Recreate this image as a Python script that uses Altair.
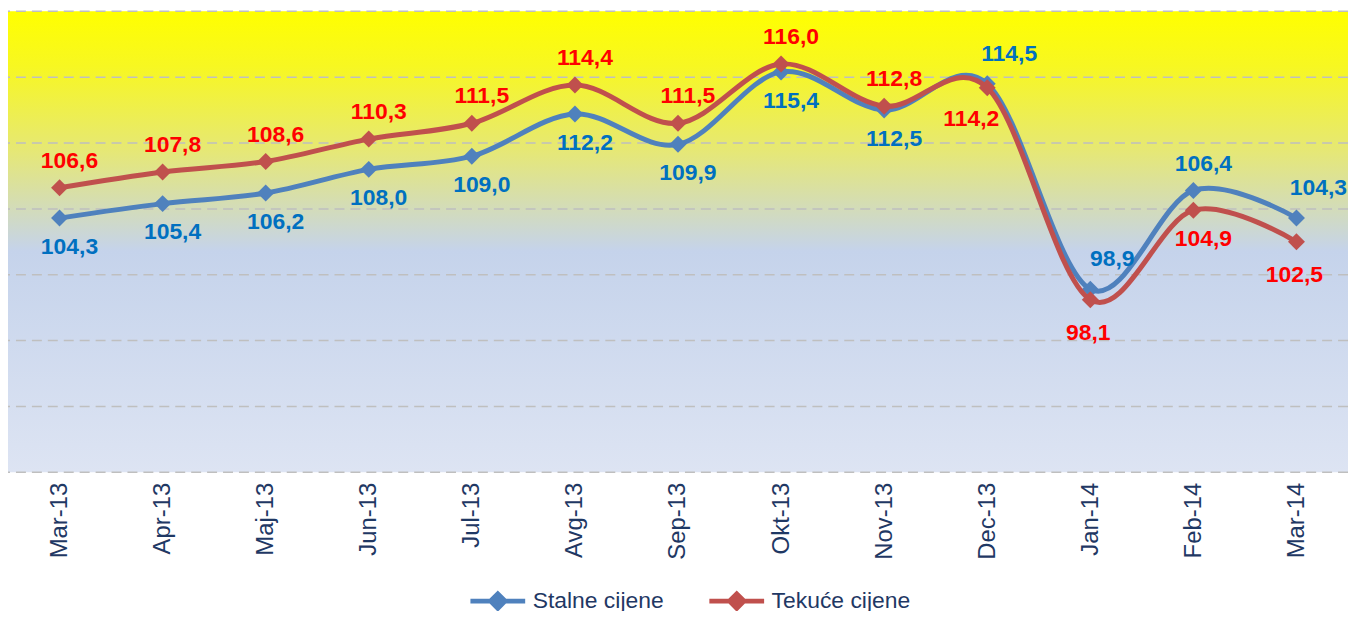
import altair as alt
import pandas as pd

months = ["Mar-13", "Apr-13", "Maj-13", "Jun-13", "Jul-13", "Avg-13", "Sep-13",
          "Okt-13", "Nov-13", "Dec-13", "Jan-14", "Feb-14", "Mar-14"]
stalne = [104.3, 105.4, 106.2, 108.0, 109.0, 112.2, 109.9, 115.4, 112.5, 114.5, 98.9, 106.4, 104.3]
tekuce = [106.6, 107.8, 108.6, 110.3, 111.5, 114.4, 111.5, 116.0, 112.8, 114.2, 98.1, 104.9, 102.5]
series_names = ["Stalne cijene", "Tekuće cijene"]
line_colors = ["#4F81BD", "#C0504D"]
label_colors = ["#0070C0", "#FF0000"]
grid_values = [85, 90, 95, 100, 105, 110, 115, 120]
# label side relative to its marker
stalne_side = ["below"] * 9 + ["above-right", "above-right", "above", "above-right"]
tekuce_side = ["above"] * 9 + ["below-left", "below-center", "below", "below-center"]

rows = []
for i, m in enumerate(months):
    rows.append({"month": m, "series": series_names[0], "value": stalne[i], "side": stalne_side[i], "order": i})
    rows.append({"month": m, "series": series_names[1], "value": tekuce[i], "side": tekuce_side[i], "order": i})
df = pd.DataFrame(rows)
df["label"] = df["value"].map(lambda v: f"{v:.1f}".replace(".", ","))

W, H = 1346, 463

bg_gradient = alt.LinearGradient(
    gradient="linear", x1=0, y1=0, x2=0, y2=1,
    stops=[alt.GradientStop(offset=0, color="#FFFF00"),
           alt.GradientStop(offset=0.12, color="#F7F722"),
           alt.GradientStop(offset=0.3, color="#E6E874"),
           alt.GradientStop(offset=0.52, color="#C5D3EB"),
           alt.GradientStop(offset=1, color="#DDE4F3")])

background = alt.Chart(pd.DataFrame({"bg": [0]})).mark_rect(color=bg_gradient).encode(
    x=alt.value(0), x2=alt.value(W), y=alt.value(0), y2=alt.value(H))

y_scale = alt.Scale(domain=[85, 120], nice=False, zero=False)

grid = alt.Chart(pd.DataFrame({"g": grid_values})).mark_rule(
    color="#BFBFBF", strokeWidth=1.5, strokeDash=[10, 6]).encode(
    y=alt.Y("g:Q", scale=y_scale, axis=None))

x_enc = alt.X("month:N", sort=months, scale=alt.Scale(type="point", padding=0.5),
              axis=alt.Axis(title=None, labelAngle=270, labelAlign="right", labelBaseline="middle",
                            labelFont="Liberation Sans", labelFontSize=24, labelColor="#1F3864",
                            labelPadding=10, ticks=False, domain=False, grid=False))
y_enc = alt.Y("value:Q", scale=y_scale, axis=None)

legend = alt.Legend(title=None, orient="none", direction="horizontal",
                    legendX=462, legendY=562,
                    symbolType="M-1,0L1,0M0,-0.26L0.26,0L0,0.26L-0.26,0Z",
                    symbolSize=3025, symbolStrokeWidth=5,
                    labelFont="Liberation Sans", labelFontSize=23, labelColor="#1F3864",
                    labelOffset=5, columnPadding=35, padding=0, labelLimit=400)
color_enc = alt.Color("series:N", scale=alt.Scale(domain=series_names, range=line_colors), legend=legend)

base = alt.Chart(df).encode(x=x_enc, y=y_enc)

layers = [background, grid]
for s in series_names:
    sub = base.transform_filter(alt.datum.series == s)
    layers.append(sub.mark_line(strokeWidth=5, interpolate="cardinal", tension=0)
                  .encode(color=color_enc, order="order:Q"))
    layers.append(sub.mark_point(shape="diamond", filled=True, size=290, opacity=1)
                  .encode(color=color_enc))

offsets = {
    "above": (10, -27),
    "below": (10, 29),
    "above-right": (22, -30),
    "below-left": (-16, 31),
    "below-center": (-2, 33),
}
for s, lc in zip(series_names, label_colors):
    for side, (dx, dy) in offsets.items():
        layers.append(
            base.transform_filter((alt.datum.series == s) & (alt.datum.side == side))
            .mark_text(font="Liberation Sans", fontWeight="bold", fontSize=23, dx=dx, dy=dy,
                       align="center", baseline="middle", color=lc)
            .encode(text="label:N")
        )

chart = alt.layer(*layers).properties(
    width=W, height=H,
    autosize=alt.AutoSizeParams(type="none"),
    padding={"left": 0, "top": 2, "right": 0, "bottom": 138},
).configure_view(stroke=None)

chart.save("out.html", embed_options={"renderer": "svg", "actions": False})
